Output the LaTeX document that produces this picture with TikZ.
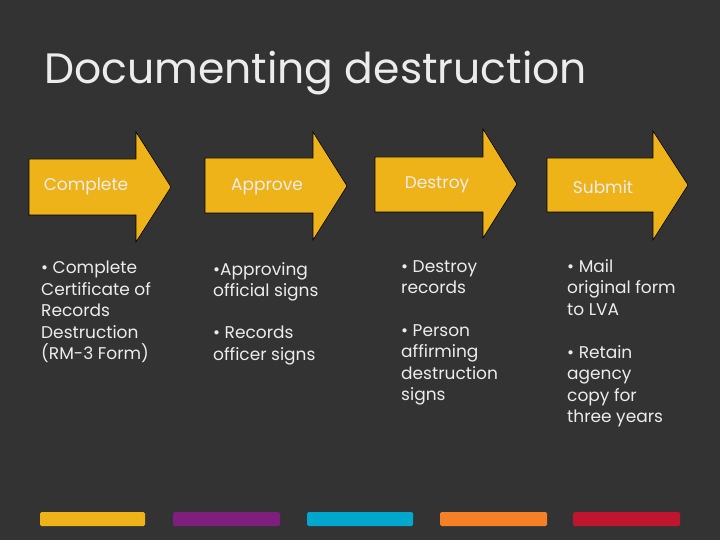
\documentclass[tikz,border=0pt]{standalone}
\usepackage{fontspec}
\setmainfont{Poppins}
\definecolor{bg}{HTML}{333333}
\definecolor{arrowy}{HTML}{EFB31A}
\definecolor{txt}{HTML}{ECECEC}
\definecolor{cy}{HTML}{EFB31A}
\definecolor{cp}{HTML}{7E1F7E}
\definecolor{cb}{HTML}{00A6CB}
\definecolor{co}{HTML}{F58025}
\definecolor{cr}{HTML}{C0152F}
\begin{document}
\begin{tikzpicture}[x=1pt,y=-1pt,
  arrowshape/.style={fill=arrowy,draw=black,line width=0.6pt,line join=miter},
  steplabel/.style={text=txt,font=\fontsize{17}{20}\selectfont,inner sep=0pt},
  body/.style={text=txt,font=\fontsize{17}{21.5}\selectfont,anchor=north west,align=left,inner sep=0pt},
  bar/.style={rounded corners=1.5pt}]
\fill[bg] (0,0) rectangle (720,540);
\useasboundingbox (0,0) rectangle (720,540);
\node[text=txt,font=\fontsize{42.5}{50}\selectfont,anchor=base west,inner sep=0pt] (title) at (44,84) {Documenting destruction};
% arrows
\draw[arrowshape] (29,159) -- (136,159) -- (136,132) -- (171,187) -- (136,242) -- (136,215) -- (29,215) -- cycle;
\draw[arrowshape] (205,158) -- (313,158) -- (313,132) -- (347,186) -- (313,240) -- (313,213) -- (205,213) -- cycle;
\draw[arrowshape] (375,157) -- (483,157) -- (483,129) -- (517,184) -- (483,238) -- (483,212) -- (375,212) -- cycle;
\draw[arrowshape] (547,158) -- (653,158) -- (653,131) -- (688,185) -- (653,240) -- (653,212) -- (547,212) -- cycle;
\node[steplabel] (l1) at (86,186) {Complete};
\node[steplabel] (l2) at (267,187) {Approve};
\node[steplabel] (l3) at (437,185) {Destroy};
\node[steplabel] (l4) at (603,187) {Submit};
% body texts
\node[body] (b1) at (41,261) {• Complete\\Certificate of\\Records\\Destruction\\(RM-3 Form)};
\node[body] (b2a) at (213,262) {•Approving\\official signs};
\node[body] (b2b) at (213,326) {• Records\\officer signs};
\node[body] (b3a) at (401,260) {• Destroy\\records};
\node[body] (b3b) at (401,324) {• Person\\affirming\\destruction\\signs};
\node[body] (b4a) at (567,259) {• Mail\\original form\\to LVA};
\node[body] (b4b) at (567,345) {• Retain\\agency\\copy for\\three years};
% bottom bars
\fill[cy,bar] (40,512) rectangle (145,526);
\fill[cp,bar] (173,512) rectangle (280,526);
\fill[cb,bar] (307,512) rectangle (413,526);
\fill[co,bar] (440,512) rectangle (547,526);
\fill[cr,bar] (573,512) rectangle (680,526);
\end{tikzpicture}
\end{document}
